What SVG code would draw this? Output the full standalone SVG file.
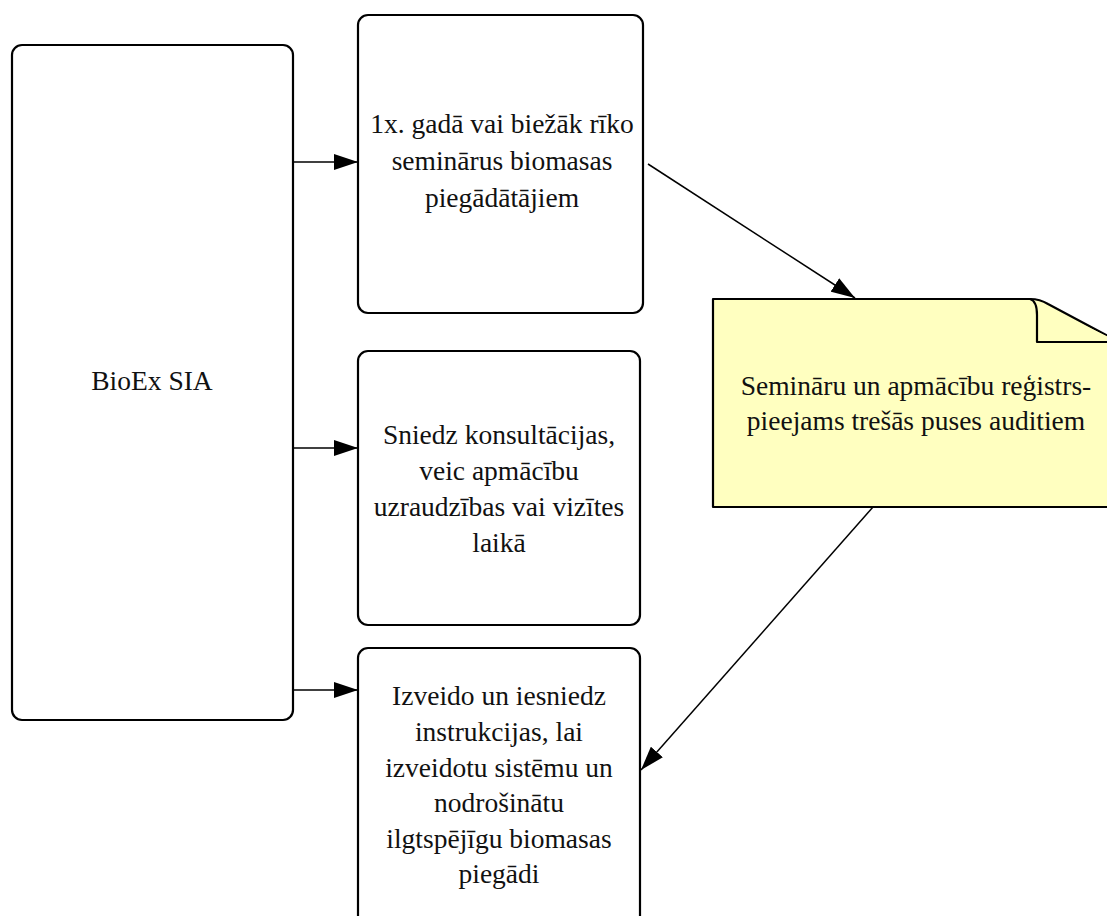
<svg xmlns="http://www.w3.org/2000/svg" width="1107" height="916" viewBox="0 0 1107 916">
<defs>
<marker id="ah" markerUnits="userSpaceOnUse" markerWidth="24" markerHeight="16" refX="24" refY="8" orient="auto">
<path d="M0,0 L24,8 L0,16 Z" fill="#000"/>
</marker>
<style>
.box{fill:#fff;stroke:#000;stroke-width:2.2}
.note{fill:#ffffc0;stroke:#000;stroke-width:2.2;stroke-linejoin:round}
.t{font-family:"Liberation Serif","Times New Roman",serif;font-size:27.5px;fill:#111;text-anchor:middle}
.c{stroke:#000;stroke-width:1.5;fill:none;marker-end:url(#ah)}
</style>
</defs>
<rect width="1107" height="916" fill="#fff"/>
<g id="connectors">
<line class="c" x1="293" y1="162" x2="358" y2="162"/>
<line class="c" x1="293" y1="448" x2="358" y2="448"/>
<line class="c" x1="293" y1="690" x2="358" y2="690"/>
<line class="c" x1="648" y1="164" x2="855" y2="298"/>
<line class="c" x1="873" y1="507" x2="641" y2="770"/>
</g>
<g id="bioex">
<rect class="box" x="12" y="45" width="281" height="675" rx="10"/>
<text class="t" x="152" y="390">BioEx SIA</text>
</g>
<g id="box1">
<rect class="box" x="358" y="15" width="285" height="298" rx="10"/>
<text class="t" x="502" y="133">1x. gadā vai biežāk rīko</text>
<text class="t" x="502" y="170">seminārus biomasas</text>
<text class="t" x="502" y="207">piegādātājiem</text>
</g>
<g id="box2">
<rect class="box" x="358" y="351" width="282" height="274" rx="10"/>
<text class="t" x="499" y="444">Sniedz konsultācijas,</text>
<text class="t" x="499" y="480">veic apmācību</text>
<text class="t" x="499" y="516">uzraudzības vai vizītes</text>
<text class="t" x="499" y="552">laikā</text>
</g>
<g id="box3">
<rect class="box" x="358" y="648" width="282" height="290" rx="10"/>
<text class="t" x="499" y="705">Izveido un iesniedz</text>
<text class="t" x="499" y="741">instrukcijas, lai</text>
<text class="t" x="499" y="777">izveidotu sistēmu un</text>
<text class="t" x="499" y="812">nodrošinātu</text>
<text class="t" x="499" y="848">ilgtspējīgu biomasas</text>
<text class="t" x="499" y="883">piegādi</text>
</g>
<g id="note">
<path class="note" d="M713,299 H1030 Q1040,299 1048,304 L1119,342 V507 H713 Z"/>
<path class="note" d="M1030,299 Q1037,301 1037,315 V342 H1119"/>
<text class="t" x="916" y="395">Semināru un apmācību reģistrs-</text>
<text class="t" x="916" y="430">pieejams trešās puses auditiem</text>
</g>
</svg>
